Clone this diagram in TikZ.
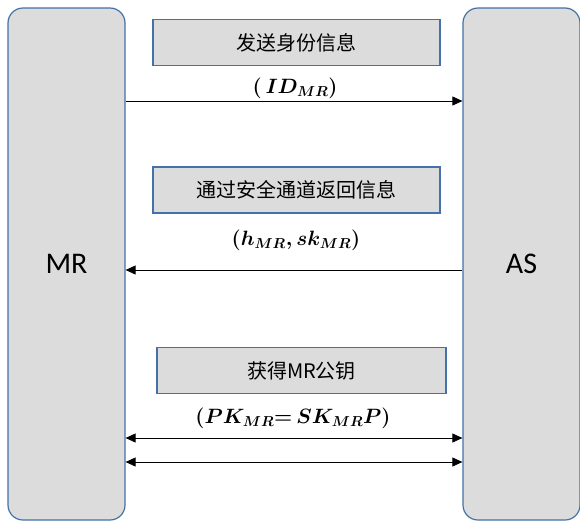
\documentclass[tikz,border=0pt]{standalone}
\usepackage{fontspec}
\newfontfamily\cjk{Noto Sans CJK SC}
\newfontfamily\calib{Carlito}
\usetikzlibrary{arrows.meta}
\definecolor{boxgray}{HTML}{DCDCDC}
\definecolor{boxblue}{HTML}{4472A8}
\begin{document}
\begin{tikzpicture}[x=1pt,y=-1pt,>={Triangle[length=10pt,width=9pt]}]
        \tikzstyle{party}=[rectangle,rounded corners=15pt,draw=boxblue,line width=1.2pt,fill=boxgray,minimum width=117pt,minimum height=512pt,font=\calib\fontsize{30}{30}\selectfont]
        \tikzstyle{stepbox}=[rectangle,draw=boxblue,line width=1.2pt,fill=boxgray,minimum height=46pt,font=\cjk\fontsize{20}{20}\selectfont]
        \tikzstyle{msg}=[font=\fontsize{19.5}{20}\selectfont\boldmath]
        \tikzstyle{edge}=[draw,line width=0.8pt]
        \useasboundingbox (0,0) rectangle (580,520);
        % the two parties
        \node [party] (mr) at (66.5,264) {MR};
        \node [party] (as) at (521.5,264) {AS};
        % step 1
        \node [stepbox,minimum width=287pt] (s1) at (296.5,42.5) {发送身份信息};
        \node [msg] (m1) at (295,88) {$(\,ID_{MR})$};
        \path[edge,->] (mr.east |- 0,101) -- (as.west |- 0,101);
        % step 2
        \node [stepbox,minimum width=287pt] (s2) at (296.5,190) {通过安全通道返回信息};
        \node [msg] (m2) at (296,240) {$(h_{MR},sk_{MR})$};
        \path[edge,->] (as.west |- 0,270) -- (mr.east |- 0,270);
        % step 3
        \node [stepbox,minimum width=289pt] (s3) at (301.5,370.5) {获得MR公钥};
        \node [msg] (m3) at (293,418) {$(PK_{MR}{=}\,SK_{MR}P)$};
        \path[edge,<->] (mr.east |- 0,438) -- (as.west |- 0,438);
        \path[edge,<->] (mr.east |- 0,462) -- (as.west |- 0,462);
\end{tikzpicture}
\end{document}
